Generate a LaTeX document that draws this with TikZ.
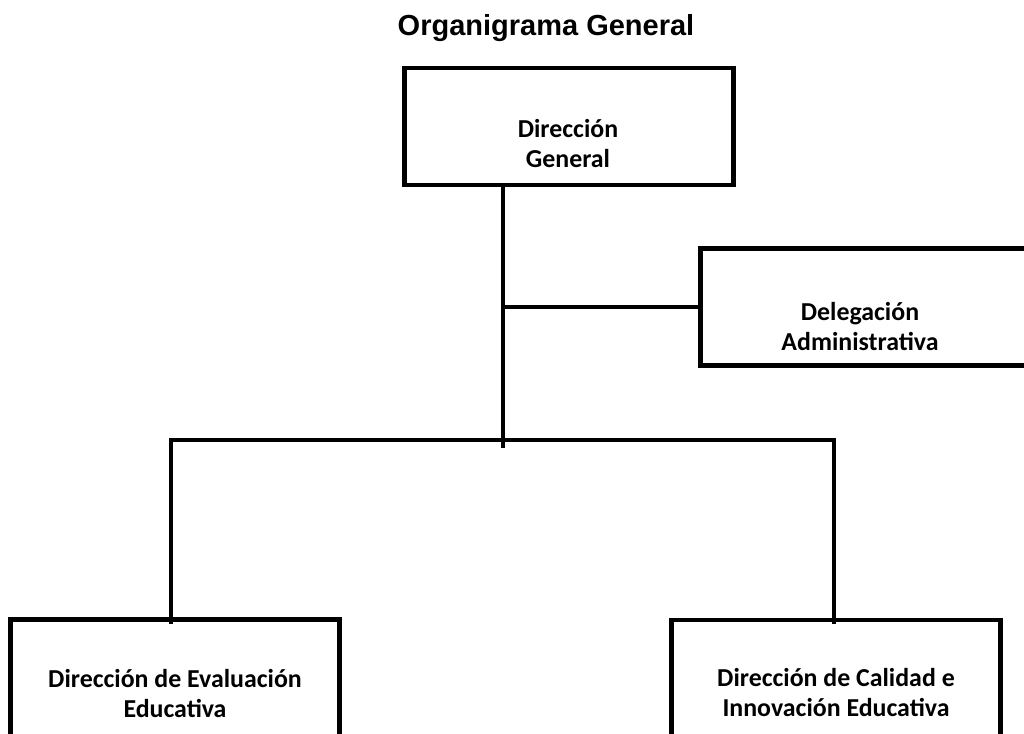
\documentclass[tikz,border=0pt]{standalone}
\usepackage{fontspec}
\setmainfont{Carlito}
\newfontfamily\titlefont{Liberation Sans}
\usetikzlibrary{calc}
\tikzset{
  orgbox/.style={draw=black,line width=3.4pt,minimum width=246.75pt,
                 minimum height=87.75pt,inner sep=0pt},
  orgtext/.style={align=center,inner sep=0pt,
                  font=\fontsize{19.4}{22.5}\selectfont\bfseries},
  link/.style={draw=black,line width=3pt},
  heading/.style={font=\titlefont\fontsize{21.75}{26}\selectfont\bfseries}
}

\begin{document}
\begin{tikzpicture}[x=0.75pt,y=-0.75pt]
  \clip (0,0) rectangle (1024,733);

  % Title
  \node[heading,anchor=base] (title) at (546,35) {Organigrama General};

  % Boxes
  \node[orgbox] (dg) at (569,126.5) {};
  \node[orgtext] (dgtext) at (568,143.5) {Dirección\\General};

  \node[orgbox] (dele) at (865,307.25) {};
  \node[orgtext] (deletext) at (860,326.5) {Delegación\\Administrativa};

  \node[orgbox] (ev) at (175,678) {};
  \node[orgtext] (evtext) at (175,693.5) {Dirección de Evaluación\\Educativa};

  \node[orgbox] (cal) at (836,678.5) {};
  \node[orgtext] (caltext) at (836,692.5) {Dirección de Calidad e\\Innovación Educativa};

  % Connectors
  \coordinate (stem) at (503,448);
  \coordinate (busL) at (170.5,439.5);
  \coordinate (busR) at (834,439.5);
  \draw[link] (dg.south -| stem) -- (stem);
  \draw[link] (dele.west -| stem) -- (dele.west);
  \draw[link] ([yshift=-5.25pt]ev.north -| busL) -- (busL) -- (busR)
    -- ([yshift=-4.5pt]cal.north -| busR);
\end{tikzpicture}
\end{document}
